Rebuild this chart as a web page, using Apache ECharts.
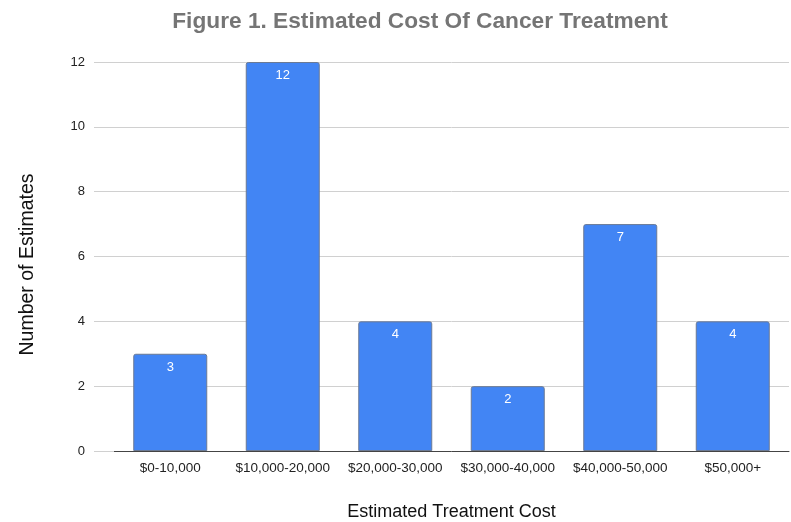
<!DOCTYPE html>
<html><head><meta charset="utf-8">
<script src="https://cdn.jsdelivr.net/npm/echarts@6/dist/echarts.min.js"></script>
<style>html,body{margin:0;padding:0;background:#fff}#c{width:791px;height:522px}</style>
</head><body><div id="c"></div>
<script>
const categories = ['$0-10,000','$10,000-20,000','$20,000-30,000','$30,000-40,000','$40,000-50,000','$50,000+'];
const estimates = [3, 12, 4, 2, 7, 4];
const yTicks = {min: 0, max: 12, interval: 2};

const chart = echarts.init(document.getElementById('c'));
chart.setOption({
  animation: false,
  title: {
    text: 'Figure 1. Estimated Cost Of Cancer Treatment',
    left: 415, top: 5, textAlign: 'center',
    textStyle: {fontFamily: 'Liberation Sans, Arial', fontWeight: 'bold', fontSize: 22.7, color: '#757575'}
  },
  grid: {left: 114, right: 2, top: 62, bottom: 71, outerBoundsMode: 'none', containLabel: false},
  xAxis: {
    type: 'category', data: categories,
    axisLine: {lineStyle: {color: '#444', width: 1}},
    axisTick: {show: false},
    axisLabel: {color: '#222', fontSize: 13.5, fontFamily: 'Liberation Sans, Arial', margin: 10, interval: 0, hideOverlap: false},
    name: 'Estimated Treatment Cost', nameLocation: 'middle', nameGap: 52,
    nameTextStyle: {color: '#111', fontSize: 18, fontFamily: 'Liberation Sans, Arial'}
  },
  yAxis: {
    type: 'value', min: yTicks.min, max: yTicks.max, interval: yTicks.interval,
    axisLine: {show: false},
    axisTick: {show: true, length: 20, lineStyle: {color: '#d0d0d0'}},
    axisLabel: {color: '#222', fontSize: 13, fontFamily: 'Liberation Sans, Arial', margin: 29},
    splitLine: {lineStyle: {color: '#d0d0d0'}},
    name: 'Number of Estimates', nameLocation: 'middle', nameGap: 76, nameRotate: 90,
    nameTextStyle: {color: '#111', fontSize: 19.5, fontFamily: 'Liberation Sans, Arial', padding: [0, 16, 0, 0]}
  },
  series: [{
    type: 'bar', data: estimates, barWidth: 74,
    itemStyle: {color: '#4285f4', borderColor: '#6b7a94', borderWidth: 1, borderRadius: [2,2,0,0]},
    label: {show: true, position: 'insideTop', distance: 7, color: '#fff', fontSize: 13, fontFamily: 'Liberation Sans, Arial'}
  }]
});
</script></body></html>
